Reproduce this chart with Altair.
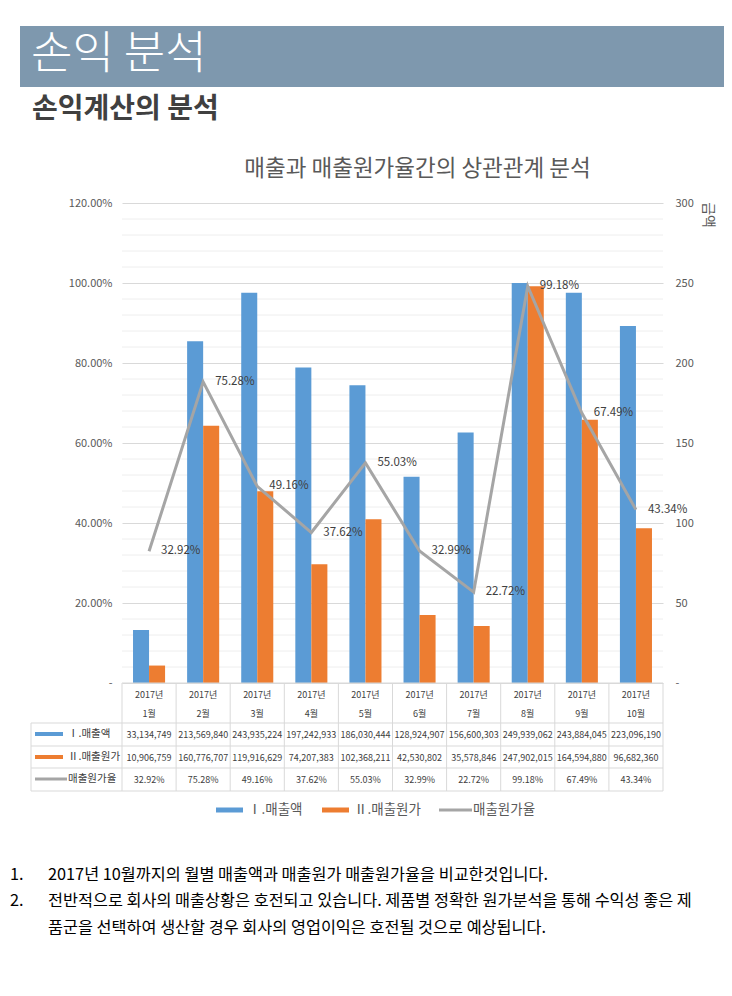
import altair as alt
import pandas as pd

# ---------------- data ----------------
months = ["1월", "2월", "3월", "4월", "5월", "6월", "7월", "8월", "9월", "10월"]
year_label = "2017년"
sales = [33134749, 213569840, 243935224, 197242933, 186030444,
         128924907, 156600303, 249939062, 243884045, 223096190]
cost = [10906759, 160776707, 119916629, 74207383, 102368211,
        42530802, 35578846, 247902015, 164594880, 96682360]
ratio_pct = [32.92, 75.28, 49.16, 37.62, 55.03, 32.99, 22.72, 99.18, 67.49, 43.34]
series_names = ["Ⅰ.매출액", "Ⅱ.매출원가", "매출원가율"]
left_ticks = [0, 0.2, 0.4, 0.6, 0.8, 1.0, 1.2]
right_ticks = [0, 50, 100, 150, 200, 250, 300]
minor_grid = [0.04, 0.08, 0.12, 0.16, 0.24, 0.28, 0.32, 0.36, 0.44, 0.48, 0.52, 0.56,
              0.64, 0.68, 0.72, 0.76, 0.84, 0.88, 0.92, 0.96, 1.04, 1.08, 1.12, 1.16]
header_title = "손익 분석"
sub_title = "손익계산의 분석"
chart_title = "매출과 매출원가율간의 상관관계 분석"
right_axis_title = "금액"
notes_num = ["1.", "2."]
notes_lines = [
    "2017년 10월까지의 월별 매출액과 매출원가 매출원가율을 비교한것입니다.",
    "전반적으로 회사의 매출상황은 호전되고 있습니다. 제품별 정확한 원가분석을 통해 수익성 좋은 제",
    "품군을 선택하여 생산할 경우 회사의 영업이익은 호전될 것으로 예상됩니다.",
]

BLUE, ORANGE, GRAY = "#5B9BD5", "#ED7D31", "#A5A5A5"
FONT = "Noto Sans CJK KR"
W, H = 541, 480
BORDER = "#d9d9d9"

df = pd.DataFrame({"month": months, "year": [year_label] * len(months),
                   "sales": sales, "cost": cost, "ratio": ratio_pct})
one = pd.DataFrame({"k": [0]})
grid_df = pd.DataFrame({"g": minor_grid})

xenc = alt.X("month:N", sort=months,
             scale=alt.Scale(paddingInner=0, paddingOuter=0), axis=None)

# ---------------- chart layers ----------------
minor = alt.Chart(grid_df).mark_rule(color="#eeeeee", strokeWidth=1).encode(
    y=alt.Y("g:Q", scale=alt.Scale(domain=[0, 1.2], nice=False), axis=None),
    x=alt.value(0), x2=alt.value(W))

bars = alt.Chart(df).transform_fold(
    ["sales", "cost"], as_=["key", "amount"]
).transform_calculate(
    series="datum.key == 'sales' ? '" + series_names[0] + "' : '" + series_names[1] + "'",
    value="datum.amount / 1000000"
).mark_bar().encode(
    x=xenc,
    xOffset=alt.XOffset("series:N", sort=series_names[:2],
                        scale=alt.Scale(domain=series_names[:2], paddingInner=0, paddingOuter=0.6875)),
    y=alt.Y("value:Q", scale=alt.Scale(domain=[0, 300], nice=False),
            axis=alt.Axis(orient="right", values=right_ticks,
                          labelExpr="datum.value == 0 ? '-' : datum.label",
                          grid=False, domain=False, ticks=False, labelPadding=12,
                          labelFontSize=11, labelColor="#595959", labelFont=FONT, title=None)),
    color=alt.Color("series:N", scale=alt.Scale(domain=series_names[:2], range=[BLUE, ORANGE]),
                    legend=None),
)

line_base = alt.Chart(df).transform_calculate(r="datum.ratio / 100")
line = line_base.mark_line(color=GRAY, strokeWidth=3).encode(
    x=xenc,
    y=alt.Y("r:Q", scale=alt.Scale(domain=[0, 1.2], nice=False),
            axis=alt.Axis(orient="left", values=left_ticks,
                          labelExpr="datum.value == 0 ? '-' : format(datum.value, '.2%')",
                          grid=True, gridColor=BORDER, domain=False, ticks=False,
                          labelPadding=10, labelFontSize=11, labelColor="#595959",
                          labelFont=FONT, title=None)),
)
line_labels = line_base.mark_text(align="left", baseline="middle", dx=12, fontSize=11.5,
                                  color="#404040", font=FONT).encode(
    x=xenc,
    y=alt.Y("r:Q", scale=alt.Scale(domain=[0, 1.2], nice=False), axis=None),
    text=alt.Text("r:Q", format=".2%"),
)

# ---------------- data table under the plot ----------------
def hrule(**enc):
    return alt.Chart(one).mark_rule(color=BORDER, strokeWidth=1).encode(**enc)

table_layers = []
table_layers.append(hrule(x=alt.value(0), x2=alt.value(W), y=alt.value(H)))
for yy in [520, 543, 565, 588]:
    table_layers.append(hrule(x=alt.value(-91), x2=alt.value(W), y=alt.value(yy)))
table_layers.append(alt.Chart(df).mark_rule(color=BORDER, strokeWidth=1).encode(
    x=alt.X("month:N", sort=months, bandPosition=0,
            scale=alt.Scale(paddingInner=0, paddingOuter=0), axis=None),
    y=alt.value(H), y2=alt.value(588)))
table_layers.append(hrule(x=alt.value(W), y=alt.value(H), y2=alt.value(588)))
table_layers.append(hrule(x=alt.value(-91), y=alt.value(520), y2=alt.value(588)))

cell = dict(align="center", baseline="middle", fontSize=9, color="#404040", font=FONT)
table_layers.append(alt.Chart(df).mark_text(**cell).encode(x=xenc, y=alt.value(492), text="year:N"))
table_layers.append(alt.Chart(df).mark_text(**cell).encode(x=xenc, y=alt.value(511), text="month:N"))
table_layers.append(alt.Chart(df).mark_text(**cell).encode(
    x=xenc, y=alt.value(532), text=alt.Text("sales:Q", format=",")))
table_layers.append(alt.Chart(df).mark_text(**cell).encode(
    x=xenc, y=alt.value(555), text=alt.Text("cost:Q", format=",")))
table_layers.append(alt.Chart(df).transform_calculate(r="datum.ratio / 100").mark_text(**cell).encode(
    x=xenc, y=alt.value(577), text=alt.Text("r:Q", format=".2%")))

key_rows = [(531, BLUE, "rect"), (554, ORANGE, "rect"), (576, GRAY, "line")]
for (yy, col, kind), name in zip(key_rows, series_names):
    if kind == "rect":
        table_layers.append(alt.Chart(one).mark_rect(color=col).encode(
            x=alt.value(-87), x2=alt.value(-59), y=alt.value(yy - 2), y2=alt.value(yy + 2)))
    else:
        table_layers.append(alt.Chart(one).mark_rule(color=col, strokeWidth=3).encode(
            x=alt.value(-87), x2=alt.value(-55), y=alt.value(yy)))
    table_layers.append(alt.Chart(one).mark_text(
        align="left", baseline="middle", fontSize=10.5, color="#404040", font=FONT, text=name
    ).encode(x=alt.value(-54), y=alt.value(yy)))

# ---------------- bottom legend ----------------
leg_y = 607
leg_style = dict(align="left", baseline="middle", fontSize=13.5, color="#595959", font=FONT)
legend_layers = [
    alt.Chart(one).mark_rect(color=BLUE).encode(
        x=alt.value(94), x2=alt.value(121), y=alt.value(leg_y - 2.5), y2=alt.value(leg_y + 2.5)),
    alt.Chart(one).mark_text(text=series_names[0], **leg_style).encode(x=alt.value(126), y=alt.value(leg_y)),
    alt.Chart(one).mark_rect(color=ORANGE).encode(
        x=alt.value(200), x2=alt.value(227), y=alt.value(leg_y - 2.5), y2=alt.value(leg_y + 2.5)),
    alt.Chart(one).mark_text(text=series_names[1], **leg_style).encode(x=alt.value(232), y=alt.value(leg_y)),
    alt.Chart(one).mark_rule(color=GRAY, strokeWidth=3).encode(
        x=alt.value(317), x2=alt.value(350), y=alt.value(leg_y)),
    alt.Chart(one).mark_text(text=series_names[2], **leg_style).encode(x=alt.value(351), y=alt.value(leg_y)),
]

# ---------------- page decorations ----------------
page_layers = [
    alt.Chart(one).mark_rect(color="#7E98AE").encode(
        x=alt.value(-102), x2=alt.value(602), y=alt.value(-177), y2=alt.value(-116)),
    alt.Chart(one).mark_text(align="left", baseline="middle", fontSize=45, fontWeight=300, color="white",
                             font=FONT, text=header_title).encode(x=alt.value(-91), y=alt.value(-148)),
    alt.Chart(one).mark_text(align="left", baseline="middle", fontSize=28, fontWeight="bold",
                             color="#404040", font=FONT, text=sub_title).encode(x=alt.value(-90), y=alt.value(-93)),
    alt.Chart(one).mark_text(align="center", baseline="middle", fontSize=22.5, color="#595959",
                             font=FONT, text=chart_title).encode(x=alt.value(295.5), y=alt.value(-34)),
    alt.Chart(one).mark_text(align="center", baseline="middle", fontSize=14, angle=90, color="#595959",
                             font=FONT, text=right_axis_title).encode(x=alt.value(586), y=alt.value(12)),
]
note_style = dict(align="left", baseline="middle", fontSize=16.3, color="#000000", font=FONT)
note_y = [672, 698, 725]
page_layers += [
    alt.Chart(one).mark_text(text=notes_num[0], **note_style).encode(x=alt.value(-112), y=alt.value(note_y[0])),
    alt.Chart(one).mark_text(text=notes_num[1], **note_style).encode(x=alt.value(-112), y=alt.value(note_y[1])),
]
for txt, yy in zip(notes_lines, note_y):
    page_layers.append(alt.Chart(one).mark_text(text=txt, **note_style).encode(
        x=alt.value(-74), y=alt.value(yy)))

chart = alt.layer(
    minor, bars, line, line_labels, *table_layers, *legend_layers, *page_layers
).resolve_scale(y="independent").properties(
    width=W, height=H,
    autosize=alt.AutoSizeParams(type="none"),
    padding={"left": 114, "top": 195, "right": 61, "bottom": 270},
    background="white",
).configure_view(stroke=None)

chart.save("out.html", embed_options={"renderer": "svg", "actions": False})
